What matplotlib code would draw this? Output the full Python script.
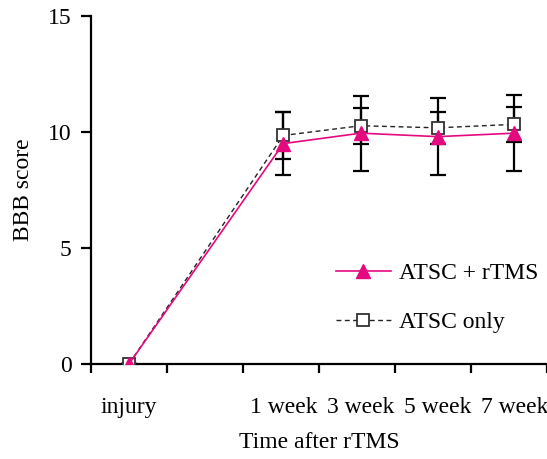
import numpy as np
import matplotlib
matplotlib.use("Agg")
import matplotlib.pyplot as plt

plt.rcParams['font.family'] = ['Liberation Serif', 'DejaVu Serif']

# data
time_labels = ['injury', '1 week', '3 week', '5 week', '7 week']
x_pos = [0.5, 2.53, 3.55, 4.56, 5.57]

atsc_rtms = [0.0, 9.5, 9.95, 9.8, 9.95]
atsc_rtms_err = [0.0, 1.35, 1.62, 1.65, 1.65]

atsc_only = [0.0, 9.85, 10.27, 10.18, 10.33]
atsc_only_err = [0.0, 1.03, 0.77, 0.68, 0.75]

pink = '#E5097F'

fig = plt.figure(figsize=(5.47, 4.59), dpi=100)
ax = fig.add_axes([91 / 547, 95 / 459, 1 - 91 / 547, (364 - 16) / 459])

# ATSC only (drawn first, under the triangles)
ax.errorbar(x_pos, atsc_only, yerr=atsc_only_err, fmt='none', ecolor='black',
            elinewidth=1.6, capsize=5.5, capthick=1.6, zorder=2)
ax.plot(x_pos, atsc_only, color='#222222', ls=(0, (3.5, 2.5)), lw=1.0,
        marker='s', ms=9, mfc='white', mec='#333333', mew=1.3,
        label='ATSC only', zorder=3)

# ATSC + rTMS
ax.errorbar(x_pos, atsc_rtms, yerr=atsc_rtms_err, fmt='none', ecolor='black',
            elinewidth=1.6, capsize=5.5, capthick=1.6, zorder=2)
ax.plot(x_pos, atsc_rtms, color=pink, lw=1.2, marker='^', ms=10,
        mfc=pink, mec=pink, label='ATSC + rTMS', zorder=4)

ax.set_xlim(0, 6)
ax.set_ylim(0, 15)
ax.set_yticks([0, 5, 10, 15])
ax.set_xticks(np.arange(0, 7))
ax.set_xticklabels([])
ax.set_xticks(x_pos, minor=True)
ax.set_xticklabels(time_labels, minor=True)

ax.tick_params(axis='y', which='major', direction='out', length=7, width=1.6,
               pad=7, labelsize=17)
ax.tick_params(axis='x', which='major', direction='out', length=6.5, width=1.6)
ax.tick_params(axis='x', which='minor', length=0, pad=24, labelsize=17)

for s in ['top', 'right']:
    ax.spines[s].set_visible(False)
for s in ['left', 'bottom']:
    ax.spines[s].set_linewidth(1.6)

ax.set_ylabel('BBB score', fontsize=17, labelpad=10)
ax.set_xlabel('Time after rTMS', fontsize=17, labelpad=10)

handles, labels = ax.get_legend_handles_labels()
ax.legend(handles[::-1], labels[::-1], loc='lower right', frameon=False,
          fontsize=17, handlelength=2.3, handletextpad=0.35, labelspacing=1.15,
          bbox_to_anchor=(1.017, 0.042), borderaxespad=0.3)

fig.savefig('out.png', dpi=100)
